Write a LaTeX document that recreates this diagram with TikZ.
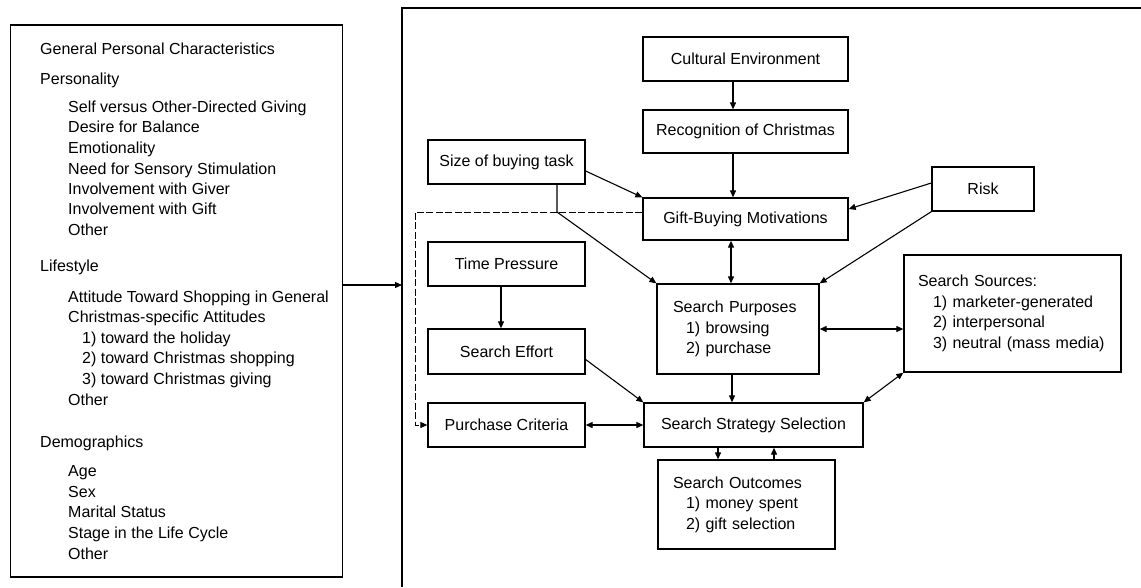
\documentclass[tikz,border=0pt]{standalone}
\usepackage{fontspec}
\setmainfont{Liberation Sans}
\usepackage{tikz}
\usetikzlibrary{positioning, arrows.meta, calc}

\begin{document}
\begin{tikzpicture}[
  x=1pt, y=-1pt,
  box/.style={draw, line width=1.3pt, align=center, inner sep=3pt,
              font=\fontsize{16}{20.5}\selectfont},
  lst/.style={box, align=left, inner ysep=4pt},
  txt/.style={anchor=west, inner sep=0pt, text height=11.5pt, text depth=3.5pt,
              font=\fontsize{16}{20.5}\selectfont},
  arr/.style={line width=1.1pt, -{Triangle[length=7pt, width=6pt]}},
  darr/.style={line width=1.1pt, {Triangle[length=7pt, width=6pt]}-{Triangle[length=7pt, width=6pt]}},
  dline/.style={line width=1pt, dash pattern=on 7pt off 2.5pt},
]
  \useasboundingbox (0,0) rectangle (1141,587);

  % Left frame with the personal characteristics
  \node[draw, line width=1.3pt, minimum width=332pt, minimum height=552pt] (gpc) at (176.5,301) {};
  \foreach \y/\t [count=\i] in {50/General Personal Characteristics, 80/Personality,
                                267/Lifestyle, 443/Demographics}
    { \node[txt] (h\i) at (40,\y) {\t}; }
  \foreach \y/\t [count=\i] in {108/Self versus Other-Directed Giving, 128/Desire for Balance,
      149/Emotionality, 170/Need for Sensory Stimulation, 190/Involvement with Giver,
      210/Involvement with Gift, 231/Other, 298/Attitude Toward Shopping in General,
      318/Christmas-specific Attitudes, 401/Other, 472/Age, 493/Sex, 513/Marital Status,
      534/Stage in the Life Cycle, 555/Other}
    { \node[txt] (it\i) at (68,\y) {\t}; }
  \foreach \y/\t [count=\i] in {339/1) toward the holiday, 359/2) toward Christmas shopping,
                                380/3) toward Christmas giving}
    { \node[txt] (nb\i) at (82,\y) {\t}; }

  % Right frame (open to the page edge)
  \draw[line width=1.3pt] (1141,8) -| (402,587);
  \coordinate (rbx) at (402,285);
  \draw[arr] (gpc.east |- rbx) -- (rbx);

  % Centre column
  \node[box, minimum width=205pt, minimum height=44pt] (cul) at (745.5,59) {Cultural Environment};
  \node[box, minimum width=205pt, minimum height=43pt] (rec) at (745.5,131.5) {Recognition of Christmas};
  \node[box, minimum width=205pt, minimum height=42pt] (gbm) at (745.5,219) {Gift-Buying Motivations};
  \node[lst, text width=130pt, inner xsep=16pt, minimum height=90pt] (pur) at (738,329)
    {Search Purposes\\\hspace*{13pt}1) browsing\\\hspace*{13pt}2) purchase};
  \node[box, minimum width=219pt, minimum height=44pt] (sss) at (753.5,425) {Search Strategy Selection};
  \node[lst, text width=147pt, inner xsep=15pt, minimum height=89pt] (out) at (746.5,504.5)
    {Search Outcomes\\\hspace*{13pt}1) money spent\\\hspace*{13pt}2) gift selection};

  % Left column
  \node[box, minimum width=157pt, minimum height=44pt] (size) at (506.5,162) {Size of buying task};
  \node[box, minimum width=157pt, minimum height=44pt] (time) at (506.5,264) {Time Pressure};
  \node[box, minimum width=157pt, minimum height=45pt] (eff)  at (506.5,351.5) {Search Effort};
  \node[box, minimum width=157pt, minimum height=44pt] (crit) at (506.5,425) {Purchase Criteria};

  % Right column
  \node[box, minimum width=102pt, minimum height=44pt] (risk) at (983,189) {Risk};
  \node[lst, text width=189pt, inner xsep=14pt, minimum height=117pt] (src) at (1012.5,313.5)
    {Search Sources:\\\hspace*{15pt}1) marketer-generated\\\hspace*{15pt}2) interpersonal\\\hspace*{15pt}3) neutral (mass media)};

  % Connectors
  \draw[arr] ([xshift=-12.5pt]cul.south) -- ([xshift=-12.5pt]rec.north);
  \draw[arr] ([xshift=-12.5pt]rec.south) -- ([xshift=-12.5pt]gbm.north);
  \draw[arr] ([yshift=-9pt]size.east) -- (gbm.north west);
  \coordinate (jn) at (557,212);
  \draw[arr] (size.south -| jn) -- (jn) -- (pur.north west);
  \draw[dline, -{Triangle[length=7pt, width=6pt]}] ([yshift=7pt]gbm.west) -- (jn) -- ++(-142,0) |- (crit.west);
  \draw[darr] ([xshift=-14.5pt]gbm.south) -- ([xshift=-7pt]pur.north);
  \draw[arr] ([yshift=6pt]risk.west) -- ([yshift=10pt]gbm.east);
  \draw[arr] (risk.south west) -- (pur.north east);
  \draw[arr] ([xshift=-5.5pt]time.south) -- ([xshift=-5.5pt]eff.north);
  \draw[arr] ([yshift=-8pt]eff.east) -- (sss.north west);
  \draw[arr] ([xshift=-6pt]pur.south) -- ([xshift=-6pt]pur.south |- sss.north);
  \draw[darr] (crit.east) -- (sss.west);
  \draw[darr] (pur.east) -- (pur.east -| src.west);
  \draw[darr] (sss.north east) -- (src.south west);
  \draw[arr] ([xshift=-35.5pt]sss.south) -- ([xshift=-35.5pt]sss.south |- out.north);
  \draw[arr] ([xshift=27.5pt]out.north) -- ([xshift=27.5pt]out.north |- sss.south);

\end{tikzpicture}
\end{document}
